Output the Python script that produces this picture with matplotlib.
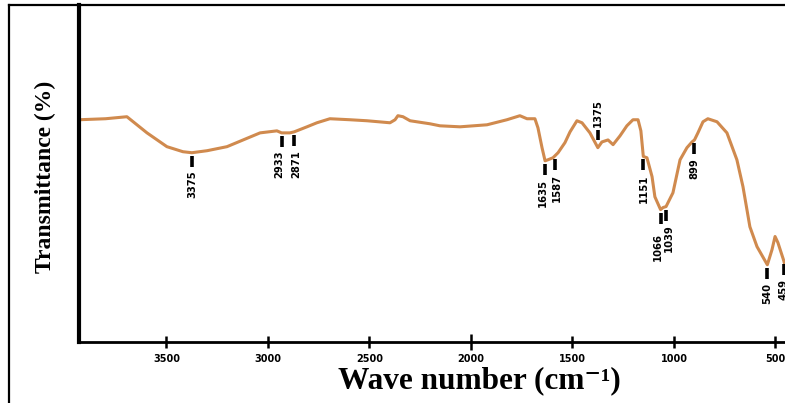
import matplotlib
matplotlib.use("Agg")
import matplotlib.pyplot as plt
from matplotlib.lines import Line2D
import numpy as np

# FTIR spectrum: wavenumber (cm^-1) and transmittance (%)
wavenumber = [3931, 3800, 3695, 3596, 3498, 3419, 3375, 3300, 3202, 3039,
              2956, 2933, 2892, 2871, 2808, 2759, 2695, 2596, 2512, 2399,
              2374, 2360, 2335, 2300, 2202, 2153, 2054, 1921, 1823, 1759,
              1724, 1685, 1670, 1650, 1635, 1621, 1596, 1571, 1537, 1512,
              1478, 1453, 1414, 1375, 1355, 1325, 1300, 1266, 1232, 1202,
              1177, 1163, 1151, 1133, 1108, 1094, 1066, 1054, 1039, 1005,
              970, 936, 911, 899, 882, 857, 833, 788, 739, 690,
              660, 626, 591, 540, 517, 502, 488, 459, 453]
transmittance = [65.9, 66.2, 66.8, 62.0, 57.9, 56.4, 56.1, 56.7, 57.9, 62.0,
                 62.6, 62.0, 62.0, 62.3, 63.8, 65.0, 66.2, 65.9, 65.6, 65.0,
                 65.9, 67.1, 66.8, 65.6, 64.7, 64.1, 63.8, 64.4, 65.9, 67.1,
                 66.2, 66.2, 63.5, 57.6, 53.7, 54.0, 54.6, 56.1, 59.1, 62.3,
                 65.6, 65.0, 62.0, 57.6, 59.3, 59.9, 58.5, 61.1, 64.1, 65.9,
                 65.9, 62.6, 55.0, 54.6, 49.0, 43.0, 39.2, 39.8, 40.1, 44.2,
                 54.0, 57.6, 59.3, 59.9, 62.0, 65.3, 66.2, 65.3, 62.0, 54.0,
                 46.0, 34.1, 28.2, 22.8, 27.3, 31.2, 29.4, 24.0, 22.5]

# Assigned band positions (cm^-1); the one flagged True is labelled above the trace
peak_positions = [3375, 2933, 2871, 1635, 1587, 1375, 1151, 1066, 1039, 899, 540, 459]
peak_above = [False, False, False, False, False, True, False, False, False, False, False, False]
# small label nudges (pixels) so that close neighbours stay legible
label_dx = {2933: -2, 2871: 2, 1635: -2, 1587: 2, 1066: -3, 1039: 3}
label_dy = {1066: -5}

tick_values = [3500, 3000, 2500, 2000, 1500, 1000, 500]

W, H = 785, 403
DPI = 100
fig = plt.figure(figsize=(W / DPI, H / DPI), dpi=DPI)
fig.patch.set_facecolor("white")

left_px, right_px, top_px, bottom_px = 79, 785, 5, 341.5
ax = fig.add_axes([left_px / W, 1 - bottom_px / H,
                   (right_px - left_px) / W, (bottom_px - top_px) / H])

curve_color = "#D08A4E"
ax.plot(wavenumber, transmittance, color=curve_color, lw=2.2,
        solid_joinstyle="round", solid_capstyle="round")

ax.set_xlim(3931, 453)
ax.set_ylim(0, 100)

# axis styling
for side in ("top", "right"):
    ax.spines[side].set_visible(False)
ax.spines["left"].set_linewidth(3.0)
ax.spines["bottom"].set_linewidth(2.0)
ax.set_yticks([])
ax.set_xticks(tick_values)
ax.set_xticklabels([str(v) for v in tick_values])
ax.tick_params(axis="x", direction="inout", length=8, width=1.8, pad=5)
for lbl in ax.get_xticklabels():
    lbl.set_fontweight("bold")
    lbl.set_fontsize(7)
    lbl.set_family("DejaVu Sans")
for tk, v in zip(ax.xaxis.get_major_ticks(), tick_values):
    if v == 2000:
        tk.tick1line.set_markersize(12)

serif = ["Liberation Serif", "DejaVu Serif"]
ax.set_xlabel("Wave number (cm\u207b\u00b9)", fontsize=22.5,
              fontweight="bold", family=serif, labelpad=0)
ax.xaxis.set_label_coords(0.567, -0.074)
ax.set_ylabel("Transmittance (%)", fontsize=17, fontweight="bold",
              family=serif, labelpad=4)
ax.yaxis.set_label_coords(-0.032, 0.49)

# peak markers: short black bars with rotated wavenumber labels
fig.canvas.draw()
ax_h_px = ax.get_window_extent().height
per_px = 100.0 / ax_h_px
label_font = ["Liberation Sans Narrow", "DejaVu Sans"]
order = np.argsort(wavenumber)
wn_sorted = np.array(wavenumber)[order]
tr_sorted = np.array(transmittance)[order]
for pos, above in zip(peak_positions, peak_above):
    t = float(np.interp(pos, wn_sorted, tr_sorted))
    dx = label_dx.get(pos, 0)
    dy = label_dy.get(pos, 0)
    if above:
        y0 = t + 8 * per_px
        y1 = y0 + 10 * per_px
        ax.plot([pos, pos], [y0, y1], color="black", lw=2.6,
                solid_capstyle="butt", clip_on=False)
        ax.annotate(str(pos), xy=(pos, y1), xytext=(dx, 3 + dy),
                    textcoords="offset pixels", rotation=90, ha="center",
                    va="bottom", fontsize=7.2, fontweight="bold",
                    family=label_font, annotation_clip=False)
    else:
        y0 = t - 3 * per_px
        y1 = y0 - 11 * per_px
        ax.plot([pos, pos], [y0, y1], color="black", lw=2.6,
                solid_capstyle="butt", clip_on=False)
        ax.annotate(str(pos), xy=(pos, y1), xytext=(dx, -4 + dy),
                    textcoords="offset pixels", rotation=90, ha="center",
                    va="top", fontsize=7.2, fontweight="bold",
                    family=label_font, annotation_clip=False)

# outer frame lines (top and left)
fig.add_artist(Line2D([9 / W, 1.0], [1 - 5 / H, 1 - 5 / H],
                      transform=fig.transFigure, color="black", lw=1.6))
fig.add_artist(Line2D([9 / W, 9 / W], [0, 1 - 5 / H],
                      transform=fig.transFigure, color="black", lw=1.6))

fig.savefig("out.png", dpi=DPI, facecolor="white")
